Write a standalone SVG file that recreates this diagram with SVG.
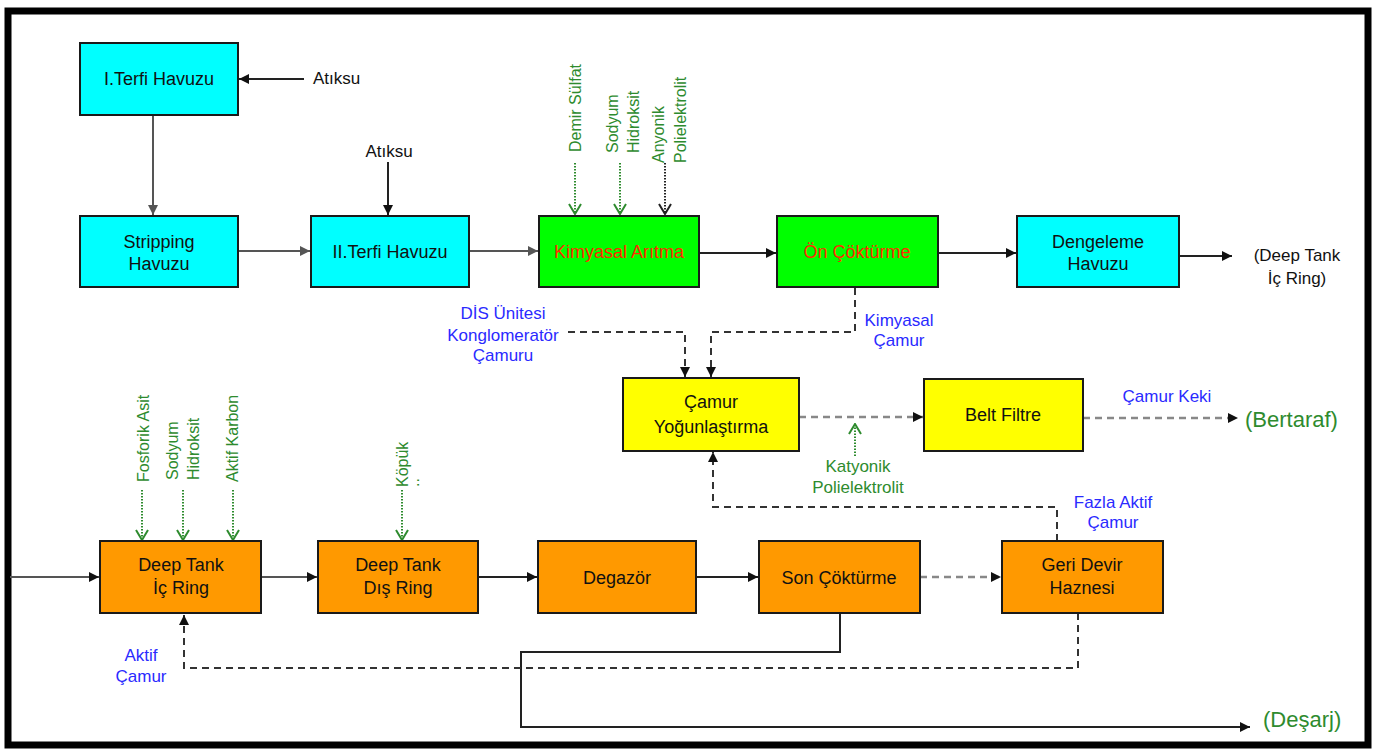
<svg xmlns="http://www.w3.org/2000/svg" width="1375" height="749" viewBox="0 0 1375 749">
<style>
text{font-family:"Liberation Sans",Arial,sans-serif}
.bt{font-size:18px;text-anchor:middle;fill:#111}
.rt{font-size:18px;text-anchor:middle;fill:#ff2a00}
.lb{font-size:17px;fill:#111}
.bl{font-size:17px;fill:#2a2aff;text-anchor:middle}
.gr{font-size:16px;fill:#2e8b2e}
.gk{font-size:17px;fill:#2e8b2e;text-anchor:middle}
.big{font-size:22px;fill:#2e8b2e}
.box{stroke:#1a1a1a;stroke-width:2}
.cy{fill:#00ffff}.gn{fill:#00ff00}.ye{fill:#ffff00}.or{fill:#ff9900}
.s{fill:none;stroke:#222;stroke-width:2}
.sg{fill:none;stroke:#555;stroke-width:2}
.d{fill:none;stroke:#333;stroke-width:2;stroke-dasharray:7 5}
.dg{fill:none;stroke:#888;stroke-width:2.5;stroke-dasharray:7 5}
.dot{fill:none;stroke:#2e8b2e;stroke-width:2;stroke-dasharray:1.5 1.5}
.dotk{fill:none;stroke:#222;stroke-width:2;stroke-dasharray:1.5 1.5}
</style>
<defs>
<marker id="ah" viewBox="0 0 10 10" refX="10" refY="5" markerWidth="11" markerHeight="10" markerUnits="userSpaceOnUse" orient="auto"><path d="M0,0 L10,5 L0,10 z" fill="#111"/></marker>
<marker id="ahg" viewBox="0 0 10 10" refX="10" refY="5" markerWidth="11" markerHeight="10" markerUnits="userSpaceOnUse" orient="auto"><path d="M0,0 L10,5 L0,10 z" fill="#555"/></marker>
<marker id="vg" viewBox="0 0 12 14" refX="11" refY="7" markerWidth="12" markerHeight="14" markerUnits="userSpaceOnUse" orient="auto"><path d="M1,1 L11,7 L1,13" fill="none" stroke="#2e8b2e" stroke-width="2"/></marker>
<marker id="vk" viewBox="0 0 12 14" refX="11" refY="7" markerWidth="12" markerHeight="14" markerUnits="userSpaceOnUse" orient="auto"><path d="M1,1 L11,7 L1,13" fill="none" stroke="#222" stroke-width="2"/></marker>
</defs>
<rect x="8" y="11" width="1360" height="734" fill="#fff" stroke="#000" stroke-width="7"/>

<g id="connectors">
<line class="s" x1="304" y1="79" x2="239" y2="79" marker-end="url(#ah)"/>
<line class="sg" x1="153" y1="115" x2="153" y2="215" marker-end="url(#ahg)"/>
<line class="sg" x1="238" y1="251" x2="310" y2="251" marker-end="url(#ahg)"/>
<line class="s" x1="388" y1="162" x2="388" y2="215" marker-end="url(#ah)"/>
<line class="sg" x1="469" y1="251" x2="538" y2="251" marker-end="url(#ahg)"/>
<line class="s" x1="699" y1="253" x2="776" y2="253" marker-end="url(#ah)"/>
<line class="s" x1="938" y1="253" x2="1016" y2="253" marker-end="url(#ah)"/>
<line class="s" x1="1179" y1="256" x2="1232" y2="256" marker-end="url(#ah)"/>
<line class="dot" x1="575" y1="163" x2="575" y2="214" marker-end="url(#vg)"/>
<line class="dot" x1="620" y1="163" x2="620" y2="214" marker-end="url(#vg)"/>
<line class="dotk" x1="665" y1="163" x2="665" y2="214" marker-end="url(#vk)"/>
<polyline class="d" points="855,288 855,332 711,332 711,377" marker-end="url(#ah)"/>
<polyline class="d" points="568,332 685,332 685,377" marker-end="url(#ah)"/>
<line class="dg" x1="799" y1="417" x2="923" y2="417" marker-end="url(#ah)"/>
<line class="dot" x1="855" y1="456" x2="855" y2="424" marker-end="url(#vg)"/>
<line class="dg" x1="1083" y1="418" x2="1238" y2="418" marker-end="url(#ah)"/>
<polyline class="d" points="1057,541 1057,507 713,507 713,452" marker-end="url(#ah)"/>
<line class="sg" x1="10" y1="577" x2="99" y2="577" marker-end="url(#ah)"/>
<line class="sg" x1="261" y1="577" x2="317" y2="577" marker-end="url(#ah)"/>
<line class="s" x1="478" y1="577" x2="537" y2="577" marker-end="url(#ah)"/>
<line class="s" x1="696" y1="577" x2="758" y2="577" marker-end="url(#ah)"/>
<line class="dg" x1="920" y1="577" x2="1001" y2="577" marker-end="url(#ah)"/>
<line class="dot" x1="142" y1="490" x2="142" y2="540" marker-end="url(#vg)"/>
<line class="dot" x1="183" y1="490" x2="183" y2="540" marker-end="url(#vg)"/>
<line class="dot" x1="233" y1="490" x2="233" y2="540" marker-end="url(#vg)"/>
<line class="dot" x1="402" y1="490" x2="402" y2="540" marker-end="url(#vg)"/>
<polyline class="s" points="840,613 840,652 521,652 521,727 1250,727" marker-end="url(#ah)"/>
<polyline class="d" points="1078,613 1078,668 184,668 184,615" marker-end="url(#ah)"/>
</g>

<g id="n-iterfi"><rect class="box cy" x="80" y="43" width="158" height="72"/><text class="bt" x="159" y="85">I.Terfi Havuzu</text></g>
<g id="n-stripping"><rect class="box cy" x="80" y="216" width="158" height="71"/><text class="bt" x="159" y="248">Stripping</text><text class="bt" x="159" y="270">Havuzu</text></g>
<g id="n-iiterfi"><rect class="box cy" x="311" y="216" width="158" height="71"/><text class="bt" x="390" y="258">II.Terfi Havuzu</text></g>
<g id="n-kimyasal"><rect class="box gn" x="539" y="216" width="160" height="71"/><text class="rt" x="619" y="258">Kimyasal Arıtma</text></g>
<g id="n-on"><rect class="box gn" x="777" y="216" width="161" height="71"/><text class="rt" x="857" y="258">Ön Çöktürme</text></g>
<g id="n-dengeleme"><rect class="box cy" x="1017" y="216" width="162" height="71"/><text class="bt" x="1098" y="248">Dengeleme</text><text class="bt" x="1098" y="270">Havuzu</text></g>
<g id="n-camur"><rect class="box ye" x="623" y="378" width="176" height="73"/><text class="bt" x="711" y="408">Çamur</text><text class="bt" x="711" y="433">Yoğunlaştırma</text></g>
<g id="n-belt"><rect class="box ye" x="924" y="379" width="159" height="72"/><text class="bt" x="1003" y="421">Belt Filtre</text></g>
<g id="n-deepic"><rect class="box or" x="100" y="541" width="161" height="72"/><text class="bt" x="181" y="571">Deep Tank</text><text class="bt" x="181" y="594">İç Ring</text></g>
<g id="n-deepdis"><rect class="box or" x="318" y="541" width="160" height="72"/><text class="bt" x="398" y="571">Deep Tank</text><text class="bt" x="398" y="594">Dış Ring</text></g>
<g id="n-degazor"><rect class="box or" x="538" y="541" width="158" height="72"/><text class="bt" x="617" y="584">Degazör</text></g>
<g id="n-son"><rect class="box or" x="759" y="541" width="161" height="72"/><text class="bt" x="839" y="584">Son Çöktürme</text></g>
<g id="n-geri"><rect class="box or" x="1002" y="541" width="161" height="72"/><text class="bt" x="1082" y="571">Geri Devir</text><text class="bt" x="1082" y="594">Haznesi</text></g>

<g id="labels">
<text class="lb" x="313" y="84">Atıksu</text>
<text class="lb" x="389" y="157" text-anchor="middle">Atıksu</text>
<text class="lb" x="1297" y="261" text-anchor="middle">(Deep Tank</text>
<text class="lb" x="1297" y="284" text-anchor="middle">İç Ring)</text>
<text class="gr" transform="translate(581,152) rotate(-90)">Demir Sülfat</text>
<text class="gr" transform="translate(618,153) rotate(-90)">Sodyum</text>
<text class="gr" transform="translate(639,153) rotate(-90)">Hidroksit</text>
<text class="gr" transform="translate(664,163) rotate(-90)">Anyonik</text>
<text class="gr" transform="translate(686,163) rotate(-90)">Polielektrolit</text>
<text class="bl" x="503" y="319">DİS Ünitesi</text>
<text class="bl" x="503" y="341">Konglomeratör</text>
<text class="bl" x="503" y="361">Çamuru</text>
<text class="bl" x="899" y="326">Kimyasal</text>
<text class="bl" x="899" y="346">Çamur</text>
<text class="gk" x="858" y="472">Katyonik</text>
<text class="gk" x="858" y="493">Polielektrolit</text>
<text class="bl" x="1167" y="402">Çamur Keki</text>
<text class="big" x="1245" y="427">(Bertaraf)</text>
<text class="bl" x="1113" y="508">Fazla Aktif</text>
<text class="bl" x="1113" y="528">Çamur</text>
<text class="gr" transform="translate(149,482) rotate(-90)">Fosforik Asit</text>
<text class="gr" transform="translate(178,480) rotate(-90)">Sodyum</text>
<text class="gr" transform="translate(199,480) rotate(-90)">Hidroksit</text>
<text class="gr" transform="translate(238,482) rotate(-90)">Aktif Karbon</text>
<text class="gr" transform="translate(408,487) rotate(-90)">Köpük</text>
<text class="gr" font-size="12" transform="translate(419,487) rotate(-90)">..</text>
<text class="bl" x="141" y="661">Aktif</text>
<text class="bl" x="141" y="682">Çamur</text>
<text class="big" x="1263" y="727">(Deşarj)</text>
</g>
</svg>
